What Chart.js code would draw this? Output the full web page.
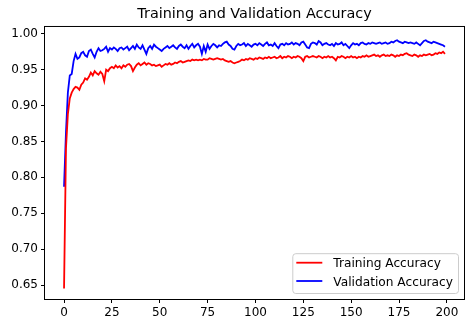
<!DOCTYPE html>
<html>
<head>
<meta charset="utf-8">
<script src="https://cdn.jsdelivr.net/npm/chart.js@4.4.0/dist/chart.umd.min.js"></script>
<style>
  html, body { margin: 0; padding: 0; background: #fff; }
</style>
</head>
<body>
<canvas id="acc-chart" width="471" height="327"></canvas>
<script>
// accuracy per epoch (0..199)
const trainAcc = [
  0.645, 0.840, 0.888, 0.910, 0.918, 0.923, 0.926, 0.925, 0.922, 0.929,
  0.932, 0.938, 0.936, 0.940, 0.946, 0.942, 0.948, 0.945, 0.943, 0.947,
  0.944, 0.934, 0.950, 0.948, 0.952, 0.954, 0.952, 0.956, 0.953, 0.955,
  0.952, 0.956, 0.954, 0.957, 0.958, 0.955, 0.948, 0.953, 0.957, 0.959,
  0.956, 0.958, 0.960, 0.957, 0.959, 0.958, 0.956, 0.957, 0.955, 0.956,
  0.957, 0.954, 0.956, 0.958, 0.957, 0.959, 0.957, 0.958, 0.960, 0.959,
  0.961, 0.962, 0.960, 0.961, 0.962, 0.963, 0.962, 0.964, 0.963, 0.964,
  0.963, 0.964, 0.963, 0.965, 0.964, 0.964, 0.966, 0.965, 0.964, 0.965,
  0.966, 0.965, 0.964, 0.965, 0.963, 0.962, 0.961, 0.962, 0.960, 0.959,
  0.960, 0.961, 0.962, 0.964, 0.963, 0.965, 0.964, 0.966, 0.965, 0.964,
  0.966, 0.965, 0.967, 0.966, 0.965, 0.967, 0.966, 0.968, 0.966, 0.967,
  0.968, 0.966, 0.967, 0.969, 0.966, 0.968, 0.967, 0.969, 0.968, 0.966,
  0.968, 0.967, 0.969, 0.968, 0.966, 0.962, 0.968, 0.969, 0.967, 0.968,
  0.969, 0.968, 0.967, 0.969, 0.968, 0.966, 0.968, 0.967, 0.969, 0.967,
  0.968, 0.966, 0.963, 0.968, 0.967, 0.969, 0.968, 0.966, 0.968, 0.967,
  0.969, 0.967, 0.968, 0.966, 0.968, 0.967, 0.969, 0.968, 0.970, 0.968,
  0.969, 0.970, 0.971, 0.969, 0.970, 0.968, 0.970, 0.971, 0.969, 0.970,
  0.969, 0.971, 0.970, 0.968, 0.970, 0.969, 0.971, 0.970, 0.972, 0.973,
  0.971, 0.970, 0.969, 0.971, 0.970, 0.968, 0.970, 0.969, 0.971, 0.970,
  0.971, 0.972, 0.970, 0.971, 0.973, 0.972, 0.974, 0.973, 0.975, 0.972
];
const valAcc = [
  0.787, 0.862, 0.918, 0.942, 0.944, 0.962, 0.972, 0.965, 0.967, 0.973,
  0.975, 0.970, 0.968, 0.976, 0.978, 0.972, 0.967, 0.975, 0.980, 0.976,
  0.977, 0.979, 0.982, 0.975, 0.980, 0.978, 0.981, 0.979, 0.976, 0.980,
  0.981, 0.978, 0.980, 0.982, 0.977, 0.980, 0.983, 0.979, 0.985, 0.981,
  0.979, 0.984, 0.978, 0.972, 0.980, 0.983, 0.979, 0.985, 0.982, 0.980,
  0.978, 0.976, 0.979, 0.981, 0.983, 0.980, 0.982, 0.984, 0.981, 0.979,
  0.983, 0.985, 0.982, 0.980, 0.984, 0.979, 0.983, 0.986, 0.981, 0.984,
  0.986, 0.982, 0.972, 0.983, 0.975, 0.985, 0.979, 0.983, 0.986, 0.984,
  0.981, 0.984, 0.983, 0.986, 0.988, 0.989, 0.985, 0.983, 0.979, 0.978,
  0.983, 0.986, 0.984, 0.985, 0.987, 0.983, 0.986, 0.984, 0.982, 0.985,
  0.986, 0.984, 0.987, 0.985, 0.983, 0.986, 0.988, 0.984, 0.985, 0.983,
  0.987, 0.983, 0.980, 0.985, 0.986, 0.984, 0.987, 0.985, 0.986, 0.988,
  0.985, 0.987, 0.986, 0.984, 0.988, 0.989, 0.985, 0.981, 0.980, 0.986,
  0.988, 0.987, 0.985, 0.990, 0.988, 0.984, 0.986, 0.987, 0.985, 0.984,
  0.986, 0.983, 0.987, 0.985, 0.986, 0.988, 0.984, 0.986, 0.983, 0.980,
  0.984, 0.987, 0.985, 0.986, 0.984, 0.987, 0.988, 0.986, 0.985, 0.987,
  0.986, 0.988, 0.987, 0.986, 0.987, 0.988, 0.986, 0.987, 0.988, 0.986,
  0.987, 0.989, 0.988, 0.990, 0.991, 0.989, 0.988, 0.987, 0.989, 0.988,
  0.987, 0.988, 0.987, 0.986, 0.988, 0.986, 0.984, 0.987, 0.990, 0.991,
  0.989, 0.988, 0.987, 0.989, 0.988, 0.987, 0.986, 0.985, 0.984, 0.982
];
const xTicks = [0, 25, 50, 75, 100, 125, 150, 175, 200];
const yTicks = [0.65, 0.70, 0.75, 0.80, 0.85, 0.90, 0.95, 1.00];

const FONT = 'DejaVu Sans';
const toPoints = arr => arr.map((v, i) => ({ x: i, y: v }));

// box around the plot, like matplotlib spines
const frame = {
  id: 'frame',
  afterDatasetsDraw(chart) {
    const { ctx, chartArea: a } = chart;
    ctx.save();
    ctx.strokeStyle = '#000';
    ctx.lineWidth = 1;
    ctx.strokeRect(a.left - 0.5, a.top - 0.5, a.right - a.left + 1, a.bottom - a.top + 1);
    ctx.restore();
  }
};

// legend box in the lower right corner of the plot
const boxLegend = {
  id: 'boxLegend',
  afterDraw(chart) {
    const { ctx, chartArea: a } = chart;
    const sets = chart.data.datasets;
    ctx.save();
    ctx.font = '12.2px "' + FONT + '"';
    const textW = Math.max(...sets.map(d => ctx.measureText(d.label).width));
    const w = 4 + 26 + 11 + textW + 5;
    const h = 9 + 18.3 * (sets.length - 1) + 12.5;
    const x = a.right - 6 - w;
    const y = a.bottom - 6 - h;
    ctx.beginPath();
    ctx.roundRect(x + 0.5, y + 0.5, w, h, 3);
    ctx.fillStyle = 'rgba(255,255,255,0.8)';
    ctx.fill();
    ctx.strokeStyle = '#cccccc';
    ctx.lineWidth = 1;
    ctx.stroke();
    sets.forEach((d, i) => {
      const cy = y + 9.5 + i * 18.3;
      ctx.beginPath();
      ctx.moveTo(x + 4, cy);
      ctx.lineTo(x + 30, cy);
      ctx.strokeStyle = d.borderColor;
      ctx.lineWidth = d.borderWidth;
      ctx.stroke();
      ctx.fillStyle = '#000';
      ctx.textBaseline = 'middle';
      ctx.fillText(d.label, x + 41, cy + 1.5);
    });
    ctx.restore();
  }
};

const tickFont = { family: FONT, size: 12 };

new Chart(document.getElementById('acc-chart'), {
  type: 'line',
  data: {
    datasets: [{
      label: 'Training Accuracy',
      data: toPoints(trainAcc),
      borderColor: '#ff0000',
      borderWidth: 1.8,
      pointRadius: 0,
      tension: 0
    },
    {
      label: 'Validation Accuracy',
      data: toPoints(valAcc),
      borderColor: '#0000ff',
      borderWidth: 1.8,
      pointRadius: 0,
      tension: 0
    }]
  },
  options: {
    responsive: false,
    animation: false,
    devicePixelRatio: 1,
    layout: { padding: { left: 0, right: 7, top: 0, bottom: 0 } },
    plugins: {
      legend: { display: false },
      tooltip: { enabled: false },
      title: {
        display: true,
        text: 'Training and Validation Accuracy',
        fullSize: false,
        color: '#000',
        font: { family: FONT, size: 14.4, weight: 'normal', lineHeight: 1.2 },
        padding: { top: 6, bottom: 3.7 }
      }
    },
    scales: {
      x: {
        type: 'linear',
        min: -9.95,
        max: 208.95,
        afterBuildTicks: s => { s.ticks = xTicks.map(v => ({ value: v })); },
        afterFit: s => { s.height = 28; },
        border: { display: false },
        grid: { drawOnChartArea: false, drawTicks: true, tickLength: 4, color: '#000', lineWidth: 1 },
        ticks: { font: tickFont, color: '#000', padding: 3, maxRotation: 0, autoSkip: false }
      },
      y: {
        min: 0.6305,
        max: 1.0095,
        afterBuildTicks: s => { s.ticks = yTicks.map(v => ({ value: v })); },
        afterFit: s => { s.width = 45; },
        border: { display: false },
        grid: { drawOnChartArea: false, drawTicks: true, tickLength: 4, color: '#000', lineWidth: 1 },
        ticks: { font: tickFont, color: '#000', padding: 3, autoSkip: false, callback: v => v.toFixed(2) }
      }
    }
  },
  plugins: [frame, boxLegend]
});
</script>
</body>
</html>
